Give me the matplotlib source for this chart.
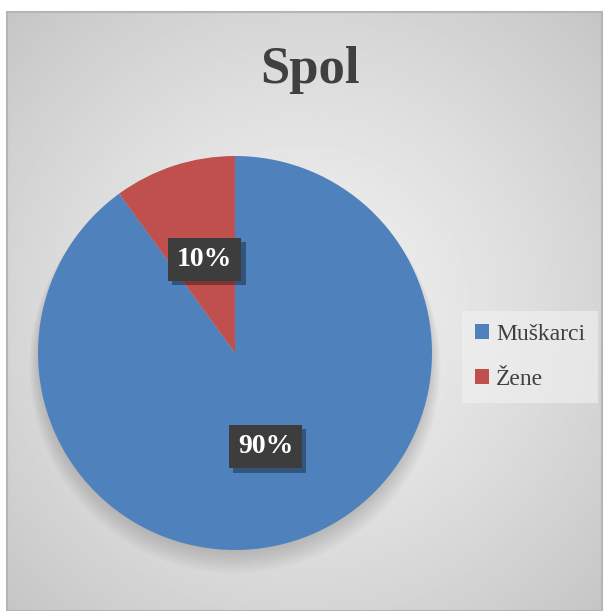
import numpy as np
import matplotlib
matplotlib.use("Agg")
import matplotlib.pyplot as plt
import matplotlib.patheffects as pe
from matplotlib.patches import Rectangle, Circle

# podaci
kategorije = ["Muškarci", "Žene"]
vrijednosti = [90, 10]
boje = ["#4F81BD", "#C0504D"]
naslov = "Spol"

W, H = 608, 611
fig = plt.figure(figsize=(W / 100, H / 100), dpi=100)
fig.patch.set_facecolor("white")

# pozadina s radijalnim gradijentom
x0, y0, x1, y1 = 7, 12, 602, 611
bg = fig.add_axes([x0 / W, 1 - y1 / H, (x1 - x0) / W, (y1 - y0) / H])
bg.set_axis_off()
yy, xx = np.mgrid[-1:1:300j, -1:1:300j]
r = np.sqrt(xx ** 2 + yy ** 2) / np.sqrt(2)
siva = 0.945 - 0.17 * r ** 1.3
bg.imshow(siva, cmap="gray", vmin=0, vmax=1, extent=[0, 1, 0, 1], aspect="auto")
bg.add_patch(Rectangle((0, 0), 1, 1, transform=bg.transAxes, fill=False,
                       edgecolor="#b5b5b5", linewidth=1.5, clip_on=False))

# pita
cx, cy, rad = 235, 353, 197
ax = fig.add_axes([(cx - rad) / W, (H - cy - rad) / H, 2 * rad / W, 2 * rad / H])
ax.set_axis_off()

# blaga sjena ispod pite
for i in range(10):
    ax.add_patch(Circle((0, -0.02 - 0.006 * i), 0.99 + 0.006 * i, color="black",
                        alpha=0.016, zorder=0, linewidth=0, clip_on=False))

wedges, texts, auto = ax.pie(vrijednosti, colors=boje, startangle=90, counterclock=False,
                             autopct="%1.0f%%", pctdistance=0.5, radius=1,
                             wedgeprops=dict(linewidth=0))
for t in auto:
    t.set_color("white")
    t.set_fontweight("bold")
    t.set_fontsize(20)
    t.set_family("Liberation Serif")
    t.set_bbox(dict(boxstyle="square,pad=0.33", facecolor="#3d3d3d", edgecolor="none"))
    t.get_bbox_patch().set_path_effects([
        pe.SimplePatchShadow(offset=(3, -3), shadow_rgbFace="black", alpha=0.35),
        pe.Normal()])
ax.set_xlim(-1, 1)
ax.set_ylim(-1, 1)

fig.text(310 / W, 1 - 70 / H, naslov, ha="center", va="center", fontsize=38,
         fontweight="bold", family="Liberation Serif", color="#404040")

leg = fig.legend(wedges, kategorije, loc="center left", bbox_to_anchor=(462 / W, 1 - 357 / H),
                 frameon=True, prop={"family": "Liberation Serif", "size": 17},
                 handlelength=0.6, handleheight=0.6, handletextpad=0.3,
                 labelspacing=1.0, borderpad=0.55, borderaxespad=0, fancybox=False)
leg.get_frame().set_facecolor("#f2f2f2")
leg.get_frame().set_edgecolor("none")
leg.get_frame().set_alpha(0.6)
for t in leg.get_texts():
    t.set_color("#404040")

fig.savefig("out.png", dpi=100)
